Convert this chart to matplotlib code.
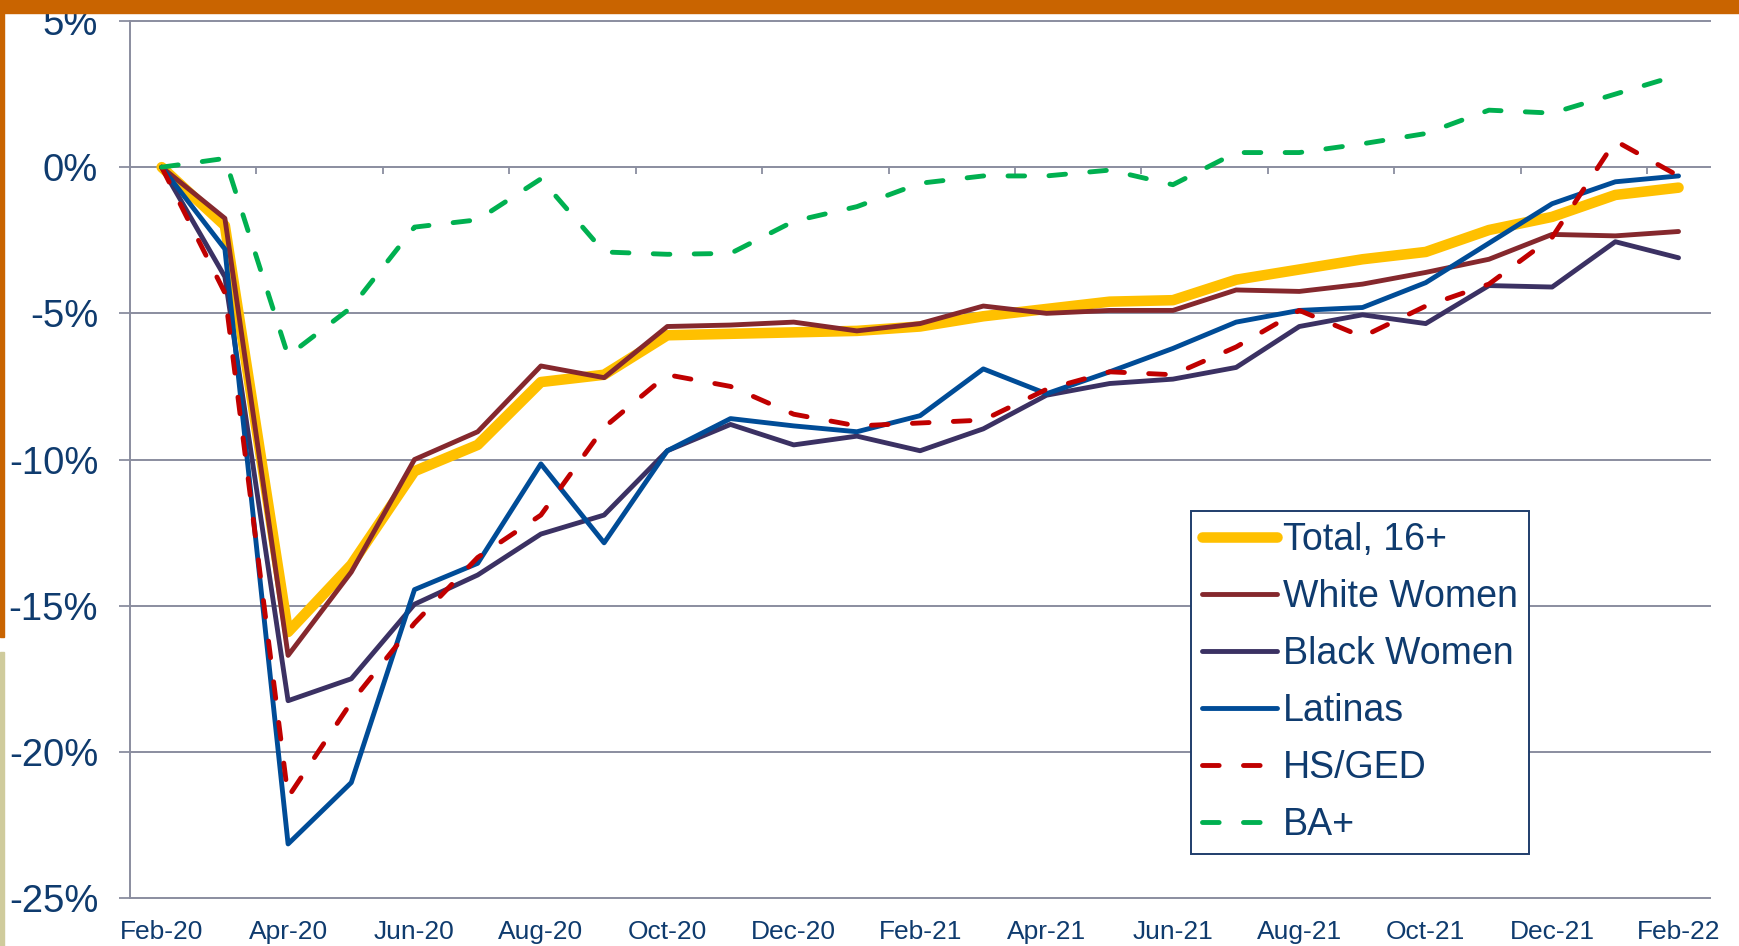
import matplotlib

matplotlib.use("Agg")
import matplotlib.pyplot as plt
import numpy as np
from matplotlib.patches import Rectangle

# cumulative change in employment since Feb-20, percent
months = [
    "Feb-20", "Mar-20", "Apr-20", "May-20", "Jun-20", "Jul-20", "Aug-20",
    "Sep-20", "Oct-20", "Nov-20", "Dec-20", "Jan-21", "Feb-21", "Mar-21",
    "Apr-21", "May-21", "Jun-21", "Jul-21", "Aug-21", "Sep-21", "Oct-21",
    "Nov-21", "Dec-21", "Jan-22", "Feb-22",
]
total = [0, -2.0, -15.9, -13.6, -10.4, -9.5, -7.35, -7.1, -5.75, -5.7, -5.65, -5.6, -5.45,
         -5.1, -4.85, -4.6, -4.55, -3.85, -3.5, -3.15, -2.9, -2.15, -1.7, -0.95, -0.7]
white_women = [0, -1.75, -16.7, -13.85, -10.0, -9.05, -6.8, -7.2, -5.45, -5.4, -5.3, -5.6, -5.35,
               -4.75, -5.0, -4.9, -4.9, -4.2, -4.25, -4.0, -3.6, -3.15, -2.3, -2.35, -2.2]
black_women = [0, -3.75, -18.25, -17.5, -14.95, -13.95, -12.55, -11.9, -9.7, -8.8, -9.5, -9.2, -9.7,
               -8.95, -7.8, -7.4, -7.25, -6.85, -5.45, -5.05, -5.35, -4.05, -4.1, -2.55, -3.1]
latinas = [0, -2.8, -23.15, -21.05, -14.45, -13.55, -10.15, -12.85, -9.7, -8.6, -8.85, -9.05, -8.5,
           -6.9, -7.75, -7.0, -6.2, -5.3, -4.9, -4.8, -3.95, -2.6, -1.25, -0.5, -0.3]
hs_ged = [0, -4.3, -21.55, -18.3, -15.6, -13.35, -11.9, -8.9, -7.1, -7.5, -8.45, -8.85, -8.75,
          -8.65, -7.6, -7.0, -7.1, -6.15, -4.9, -5.8, -4.75, -4.0, -2.4, 0.9, -0.3]
ba_plus = [0, 0.3, -6.45, -4.8, -2.05, -1.8, -0.4, -2.9, -2.98, -2.95, -1.85, -1.35, -0.55,
           -0.3, -0.3, -0.1, -0.6, 0.5, 0.5, 0.8, 1.15, 1.95, 1.85, 2.5, 3.15]

TEXT = "#0F3B6E"
GRID = "#8A8D9F"

plt.rcParams["font.family"] = ["Liberation Sans", "DejaVu Sans"]
plt.rcParams["axes.unicode_minus"] = False
plt.rcParams["lines.scale_dashes"] = False

fig = plt.figure(figsize=(17.39, 9.46), dpi=100)
ax = fig.add_axes([0.0748, 0.0507, 0.9086, 0.9271])
ax2 = ax.twiny()

x = np.arange(len(months))
series = [
    ("Total, 16+", total, "#FFC000", 7.6, None),
    ("White Women", white_women, "#85282D", 3.5, None),
    ("Black Women", black_women, "#3B3163", 3.5, None),
    ("Latinas", latinas, "#004C97", 3.5, None),
    ("HS/GED", hs_ged, "#C00000", 3.5, (12, 17.5)),
    ("BA+", ba_plus, "#00B050", 3.5, (12, 17.5)),
]
for label, values, color, lw, dashes in series:
    line, = ax.plot(x, values, color=color, linewidth=lw, label=label,
                    solid_capstyle="round", solid_joinstyle="round",
                    dash_capstyle="round", dash_joinstyle="round")
    if dashes:
        line.set_dashes(dashes)

ax.set_xlim(-0.5, len(months) - 0.5)
ax.set_ylim(-25, 5)
yticks = list(range(-25, 6, 5))
ax.set_yticks(yticks)
ax.set_yticklabels([f"{v}%" for v in yticks])
ax.yaxis.grid(True, color=GRID, linewidth=1.4)
for gl in ax.get_ygridlines():
    gl.set_clip_on(False)
ax.set_axisbelow(True)
for side in ("top", "right", "bottom"):
    ax.spines[side].set_visible(False)
ax.spines["left"].set_color(GRID)
ax.spines["left"].set_linewidth(1.4)
ax.tick_params(axis="y", length=8, width=1.3, color=GRID, labelsize=27.5, labelcolor=TEXT, pad=15)

ax.set_xticks(x[::2])
ax.set_xticklabels(months[::2])
ax.tick_params(axis="x", length=0, labelsize=19, labelcolor=TEXT, pad=16)

# tick marks between categories sit on the 0% line
ax2.set_xlim(ax.get_xlim())
ax2.set_xticks(np.arange(1.5, len(months), 2))
ax2.xaxis.set_ticks_position("bottom")
ax2.spines["bottom"].set_position(("data", 0))
ax2.spines["bottom"].set_linewidth(0)
for side in ("top", "right", "left"):
    ax2.spines[side].set_visible(False)
ax2.tick_params(axis="x", direction="out", length=5, width=1.3, color=GRID,
                labelbottom=False, labeltop=False, top=False)
ax.set_zorder(ax2.get_zorder() + 1)
ax.patch.set_visible(False)

leg = ax.legend(loc="lower left", bbox_to_anchor=(0.6715, 0.0502), fontsize=27,
                frameon=True, fancybox=False, edgecolor="#1F3D6B", framealpha=1,
                borderaxespad=0, handlelength=2.0, handletextpad=0.15,
                labelspacing=0.56, borderpad=0.3, labelcolor=TEXT)
leg.get_frame().set_linewidth(1.4)

# slide decoration bars
fig.add_artist(Rectangle((0, 1 - 13 / 946), 1, 13 / 946, transform=fig.transFigure,
                         color="#C96400", zorder=5))
fig.add_artist(Rectangle((0, 1 - 637 / 946), 4 / 1739, 637 / 946, transform=fig.transFigure,
                         color="#C96400", zorder=5))
fig.add_artist(Rectangle((0, 0), 4 / 1739, 294 / 946, transform=fig.transFigure,
                         color="#CFCB9C", zorder=5))

fig.savefig("out.png", dpi=100)
